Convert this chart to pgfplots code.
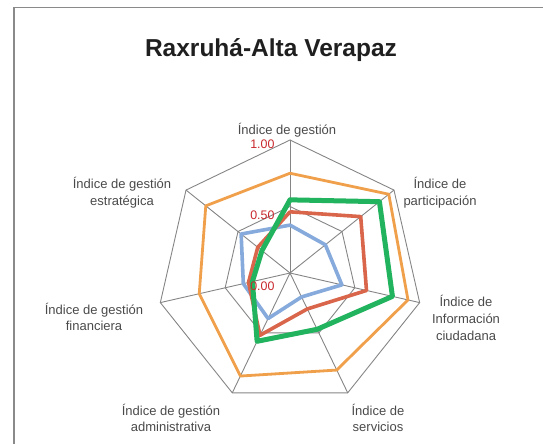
\documentclass[border=0pt]{standalone}
\usepackage{fontspec}
\setmainfont{Liberation Sans}
\usepackage{pgfplots}
\pgfplotsset{compat=1.18}
\usepgfplotslibrary{polar}
\definecolor{cOrange}{HTML}{F0A04B}
\definecolor{cRed}{HTML}{D9654B}
\definecolor{cBlue}{HTML}{85AADB}
\definecolor{cGreen}{HTML}{22B35E}
\definecolor{cGrid}{HTML}{858585}
\definecolor{cTick}{HTML}{C8282D}
\definecolor{cLabel}{HTML}{4A4A4A}
\definecolor{cFrame}{HTML}{8A8A8A}

\begin{document}
\begin{tikzpicture}[x=1pt,y=1pt]
\useasboundingbox (0,0) rectangle (543,444);
\draw[cFrame,line width=1.6pt] (14,-2) -- (14,436.5) -- (545,436.5);
\node[font=\bfseries\fontsize{24.5}{28}\selectfont,text=black!88] at (271,394) {Raxruhá-Alta Verapaz};

\begin{polaraxis}[
  at={(290pt,171pt)}, anchor=center,
  scale only axis, width=266pt, height=266pt,
  xmin=0, xmax=360, ymin=0, ymax=1,
  hide axis, clip=false,
  every axis plot/.append style={line join=round,line cap=round},
]
% spokes
\addplot[cGrid,line width=0.9pt] coordinates {(90,0) (90,1)};
\addplot[cGrid,line width=0.9pt] coordinates {(38.571,0) (38.571,1)};
\addplot[cGrid,line width=0.9pt] coordinates {(-12.857,0) (-12.857,1)};
\addplot[cGrid,line width=0.9pt] coordinates {(-64.286,0) (-64.286,1)};
\addplot[cGrid,line width=0.9pt] coordinates {(-115.714,0) (-115.714,1)};
\addplot[cGrid,line width=0.9pt] coordinates {(-167.143,0) (-167.143,1)};
\addplot[cGrid,line width=0.9pt] coordinates {(141.429,0) (141.429,1)};
% grid rings
\addplot[cGrid,line width=0.9pt] coordinates {(90,0.5) (38.571,0.5) (-12.857,0.5) (-64.286,0.5) (-115.714,0.5) (-167.143,0.5) (141.429,0.5) (90,0.5)};
\addplot[cGrid,line width=0.9pt] coordinates {(90,1) (38.571,1) (-12.857,1) (-64.286,1) (-115.714,1) (-167.143,1) (141.429,1) (90,1)};
% series
\addplot[cBlue,line width=3.6pt] coordinates {(90,0.36) (38.571,0.34) (-12.857,0.40) (-64.286,0.20) (-115.714,0.38) (-167.143,0.36) (141.429,0.47) (90,0.36)};
\addplot[cRed,line width=3.6pt] coordinates {(90,0.46) (38.571,0.68) (-12.857,0.59) (-64.286,0.30) (-115.714,0.52) (-167.143,0.32) (141.429,0.31) (90,0.46)};
\addplot[cOrange,line width=2.8pt] coordinates {(90,0.75) (38.571,0.95) (-12.857,0.91) (-64.286,0.81) (-115.714,0.86) (-167.143,0.70) (141.429,0.81) (90,0.75)};
\addplot[cGreen,line width=5pt] coordinates {(90,0.55) (38.571,0.86) (-12.857,0.79) (-64.286,0.47) (-115.714,0.57) (-167.143,0.29) (141.429,0.27) (90,0.55)};
\end{polaraxis}

\begin{scope}[font=\fontsize{12.4}{14}\selectfont,text=cTick]
\node[anchor=east] at (278,300) {1.00};
\node[anchor=east] at (278,229) {0.50};
\node[anchor=east] at (278,158) {0.00};
\end{scope}

\begin{scope}[font=\fontsize{13}{16.6}\selectfont,text=cLabel,align=center]
\node at (287,314) {Índice de gestión};
\node at (440,251) {Índice de\\participación};
\node at (466,126) {Índice de\\Información\\ciudadana};
\node at (378,26) {Índice de\\servicios};
\node at (171,26) {Índice de gestión\\administrativa};
\node at (94,127) {Índice de gestión\\financiera};
\node at (122,251) {Índice de gestión\\estratégica};
\end{scope}
\end{tikzpicture}
\end{document}
